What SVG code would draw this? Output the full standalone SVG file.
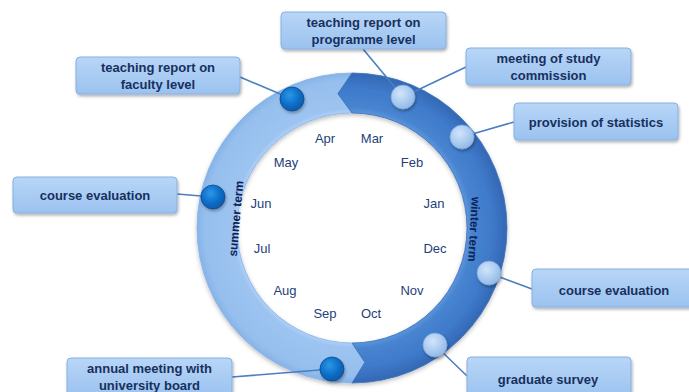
<svg xmlns="http://www.w3.org/2000/svg" width="689" height="392" viewBox="0 0 689 392">
<defs>
<linearGradient id="boxg" x1="0" y1="0" x2="0" y2="1">
<stop offset="0" stop-color="#b8d6f7"/>
<stop offset="1" stop-color="#9bc2ef"/>
</linearGradient>
<radialGradient id="lightRing" gradientUnits="userSpaceOnUse" cx="352" cy="228" r="155">
<stop offset="0.74" stop-color="#b0d1f7"/>
<stop offset="0.77" stop-color="#9dc4f1"/>
<stop offset="0.95" stop-color="#96bfee"/>
<stop offset="1" stop-color="#86b3e8"/>
</radialGradient>
<radialGradient id="darkRing" gradientUnits="userSpaceOnUse" cx="352" cy="228" r="155">
<stop offset="0.74" stop-color="#5c95dc"/>
<stop offset="0.78" stop-color="#4784d0"/>
<stop offset="0.9" stop-color="#3f7aca"/>
<stop offset="1" stop-color="#3368b5"/>
</radialGradient>
<radialGradient id="dotDark" cx="0.4" cy="0.35" r="0.7">
<stop offset="0" stop-color="#2c97e8"/>
<stop offset="0.6" stop-color="#0b6dc6"/>
<stop offset="1" stop-color="#0757a4"/>
</radialGradient>
<radialGradient id="dotLight" cx="0.4" cy="0.35" r="0.7">
<stop offset="0" stop-color="#d2e5fa"/>
<stop offset="0.6" stop-color="#a9caf0"/>
<stop offset="1" stop-color="#8fb6e6"/>
</radialGradient>
<filter id="shadow" x="-20%" y="-30%" width="140%" height="160%">
<feDropShadow dx="1" dy="2" stdDeviation="1.5" flood-color="#000" flood-opacity="0.3"/>
</filter>
<filter id="ringShadow" x="-10%" y="-10%" width="120%" height="120%">
<feDropShadow dx="0" dy="2" stdDeviation="2" flood-color="#000" flood-opacity="0.25"/>
</filter>
</defs>
<style>
.box{fill:url(#boxg);stroke:#86b0e2;stroke-width:1;filter:url(#shadow)}
.lbl{font-family:"Liberation Sans",Arial,sans-serif;font-size:13px;font-weight:bold;fill:#17305e;text-anchor:middle}
.mon{font-family:"Liberation Sans",Arial,sans-serif;font-size:13px;fill:#243f7a;text-anchor:middle}
.term{font-family:"Liberation Sans",Arial,sans-serif;font-size:12px;font-weight:bold;fill:#0d2459;text-anchor:middle}
.con{stroke:#4a7fc0;stroke-width:1.6;fill:none}
.dd{fill:url(#dotDark);stroke:#0a4a8a;stroke-width:0.8;filter:url(#shadow)}
.dl{fill:url(#dotLight);stroke:#7ea6d6;stroke-width:0.8;filter:url(#shadow)}
</style>

<g id="ring" filter="url(#ringShadow)">
<path id="summer" d="M352,73 A155,155 0 0 0 197,228 A155,155 0 0 0 352,383 L364.9,362.4 L352,343 A115,115 0 0 1 237,228 A115,115 0 0 1 352,113 L337.9,93.7 Z" fill="url(#lightRing)" stroke="#84b1e6" stroke-width="0.8"/>
<path id="winter" d="M352,73 A155,155 0 0 1 507,228 A155,155 0 0 1 352,383 L364.9,362.4 L352,343 A115,115 0 0 0 467,228 A115,115 0 0 0 352,113 L337.9,93.7 Z" fill="url(#darkRing)" stroke="#3b6fb8" stroke-width="0.8"/>
</g>

<g id="months">
<text class="mon" x="325" y="143">Apr</text>
<text class="mon" x="372" y="143">Mar</text>
<text class="mon" x="286" y="167">May</text>
<text class="mon" x="412" y="167">Feb</text>
<text class="mon" x="261" y="208">Jun</text>
<text class="mon" x="434" y="208">Jan</text>
<text class="mon" x="262" y="253">Jul</text>
<text class="mon" x="435" y="253">Dec</text>
<text class="mon" x="285" y="295">Aug</text>
<text class="mon" x="412" y="295">Nov</text>
<text class="mon" x="325" y="318">Sep</text>
<text class="mon" x="371" y="318">Oct</text>
</g>

<g id="terms">
<text class="term" transform="translate(240,219) rotate(-85)">summer term</text>
<text class="term" transform="translate(470,229) rotate(93)">winter term</text>
</g>

<g id="connectors">
<line class="con" x1="363" y1="49" x2="403" y2="97"/>
<line class="con" x1="466" y1="67" x2="403" y2="97"/>
<line class="con" x1="514" y1="122" x2="462" y2="137"/>
<line class="con" x1="240" y1="77" x2="292" y2="99"/>
<line class="con" x1="177" y1="194" x2="213" y2="197"/>
<line class="con" x1="232" y1="377" x2="332" y2="369"/>
<line class="con" x1="532" y1="289" x2="489" y2="273"/>
<line class="con" x1="467" y1="376" x2="435" y2="345"/>
</g>

<g id="dots">
<circle class="dl" cx="403" cy="97" r="12"/>
<circle class="dl" cx="462" cy="137" r="12"/>
<circle class="dl" cx="489" cy="273" r="12"/>
<circle class="dl" cx="435" cy="345" r="12"/>
<circle class="dd" cx="292" cy="99" r="12"/>
<circle class="dd" cx="213" cy="197" r="12"/>
<circle class="dd" cx="332" cy="369" r="12"/>
</g>

<g id="node-programme">
<rect class="box" x="281" y="12" width="165" height="37" rx="4"/>
<text class="lbl" x="363.5" y="27">teaching report on</text>
<text class="lbl" x="363.5" y="44">programme level</text>
</g>
<g id="node-commission">
<rect class="box" x="466" y="48" width="165" height="37" rx="4"/>
<text class="lbl" x="548.5" y="63">meeting of study</text>
<text class="lbl" x="548.5" y="80">commission</text>
</g>
<g id="node-statistics">
<rect class="box" x="514" y="103" width="164" height="37" rx="4"/>
<text class="lbl" x="596" y="127">provision of statistics</text>
</g>
<g id="node-faculty">
<rect class="box" x="76" y="57" width="164" height="37" rx="4"/>
<text class="lbl" x="158" y="72">teaching report on</text>
<text class="lbl" x="158" y="89">faculty level</text>
</g>
<g id="node-course-left">
<rect class="box" x="13" y="177" width="164" height="36" rx="4"/>
<text class="lbl" x="95" y="200">course evaluation</text>
</g>
<g id="node-annual">
<rect class="box" x="67" y="358" width="165" height="38" rx="4"/>
<text class="lbl" x="149.5" y="373">annual meeting with</text>
<text class="lbl" x="149.5" y="390">university board</text>
</g>
<g id="node-course-right">
<rect class="box" x="532" y="269" width="165" height="38" rx="4"/>
<text class="lbl" x="614" y="295">course evaluation</text>
</g>
<g id="node-graduate">
<rect class="box" x="467" y="357" width="164" height="40" rx="4"/>
<text class="lbl" x="548" y="384">graduate survey</text>
</g>
</svg>
